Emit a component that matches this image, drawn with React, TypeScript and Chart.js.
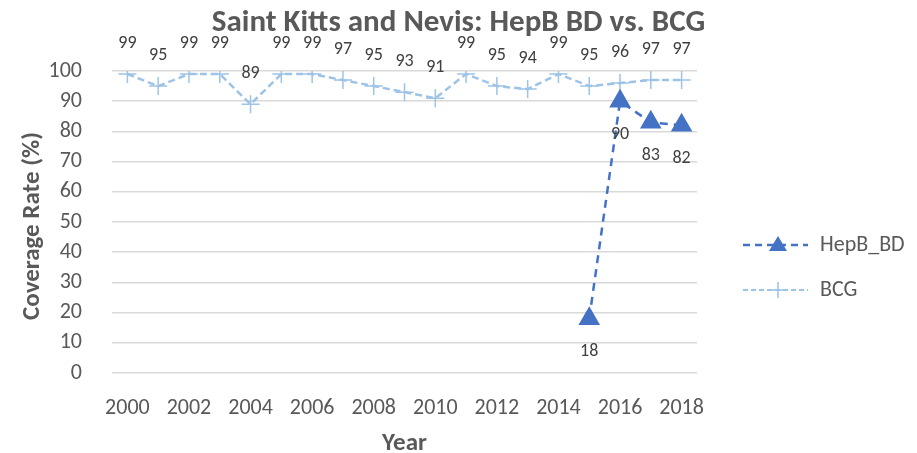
import React, { useEffect, useRef } from "react";
import { Chart, registerables } from "chart.js";

Chart.register(...registerables);

const years = ["2000","2001","2002","2003","2004","2005","2006","2007","2008","2009","2010","2011","2012","2013","2014","2015","2016","2017","2018"];
const hepbBD = [null,null,null,null,null,null,null,null,null,null,null,null,null,null,null,18,90,83,82];
const bcg = [99,95,99,99,89,99,99,97,95,93,91,99,95,94,99,95,96,97,97];
const yTicks = [0,10,20,30,40,50,60,70,80,90,100];

const FONT = "Carlito, Calibri, Lato, 'Noto Sans', sans-serif";
const TEXT = "#595959";
const HEPB_COLOR = "#4472C4";
const BCG_COLOR = "#9DC3E6";

const overlay = {
  id: "overlay",
  afterDatasetsDraw(chart: any) {
    const ctx = chart.ctx;
    ctx.save();
    // data labels
    ctx.font = `18px ${FONT}`;
    ctx.fillStyle = "#404040";
    ctx.textAlign = "center";
    ctx.textBaseline = "middle";
    chart.data.datasets.forEach((ds: any, di: number) => {
      const meta = chart.getDatasetMeta(di);
      meta.data.forEach((pt: any, i: number) => {
        const v = ds.data[i];
        if (v === null || v === undefined) return;
        const dy = di === 0 ? 33 : -31;
        ctx.fillText(String(v), pt.x, pt.y + dy);
      });
    });
    // title
    ctx.font = `bold 31px ${FONT}`;
    ctx.fillStyle = TEXT;
    ctx.textBaseline = "alphabetic";
    ctx.fillText("Saint Kitts and Nevis: HepB BD vs. BCG", chart.width / 2, 31);
    // axis titles
    ctx.font = `bold 25px ${FONT}`;
    const ca = chart.chartArea;
    ctx.fillText("Year", (ca.left + ca.right) / 2, 450);
    ctx.save();
    ctx.translate(39, 226);
    ctx.rotate(-Math.PI / 2);
    ctx.fillText("Coverage Rate (%)", 0, 0);
    ctx.restore();
    // legend
    const items = [
      { label: "HepB_BD", color: HEPB_COLOR, dash: [7, 5], width: 2.5, y: 245, marker: "tri" },
      { label: "BCG", color: BCG_COLOR, dash: [5, 3], width: 2, y: 290, marker: "cross" },
    ];
    items.forEach((it) => {
      ctx.save();
      ctx.strokeStyle = it.color;
      ctx.lineWidth = it.width;
      ctx.setLineDash(it.dash);
      ctx.beginPath();
      ctx.moveTo(743, it.y);
      ctx.lineTo(808, it.y);
      ctx.stroke();
      ctx.setLineDash([]);
      const cx = 778;
      if (it.marker === "tri") {
        ctx.fillStyle = it.color;
        ctx.beginPath();
        ctx.moveTo(cx, it.y - 9);
        ctx.lineTo(cx + 9, it.y + 6);
        ctx.lineTo(cx - 9, it.y + 6);
        ctx.closePath();
        ctx.fill();
      } else {
        ctx.lineWidth = 1.5;
        ctx.beginPath();
        ctx.moveTo(cx - 8, it.y);
        ctx.lineTo(cx + 8, it.y);
        ctx.moveTo(cx, it.y - 8);
        ctx.lineTo(cx, it.y + 8);
        ctx.stroke();
      }
      ctx.restore();
      ctx.font = `22px ${FONT}`;
      ctx.fillStyle = TEXT;
      ctx.textAlign = "left";
      ctx.textBaseline = "middle";
      ctx.fillText(it.label, 820, it.y);
    });
    ctx.restore();
  },
};

export default function App() {
  const ref = useRef<HTMLCanvasElement | null>(null);
  useEffect(() => {
    document.body.style.margin = "0";
    const canvas = ref.current;
    if (!canvas) return;
    const chart = new Chart(canvas, {
      type: "line",
      data: {
        labels: years,
        datasets: [
          {
            label: "HepB_BD",
            data: hepbBD as any,
            borderColor: HEPB_COLOR,
            backgroundColor: HEPB_COLOR,
            borderWidth: 2.5,
            borderDash: [8, 6],
            pointStyle: "triangle",
            pointRadius: 10,
            pointBackgroundColor: HEPB_COLOR,
            pointBorderColor: HEPB_COLOR,
            tension: 0,
          },
          {
            label: "BCG",
            data: bcg,
            borderColor: BCG_COLOR,
            backgroundColor: BCG_COLOR,
            borderWidth: 2.5,
            borderDash: [7, 4],
            pointStyle: "cross",
            pointRadius: 9,
            pointBorderWidth: 1.5,
            pointBorderColor: BCG_COLOR,
            tension: 0,
          },
        ],
      },
      options: {
        animation: false,
        responsive: true,
        maintainAspectRatio: false,
        layout: { padding: { left: 0, top: 71, right: 220, bottom: 0 } },
        plugins: {
          legend: { display: false },
          title: { display: false },
          tooltip: { enabled: false },
        },
        scales: {
          x: {
            type: "category",
            offset: true,
            grid: { display: false, drawTicks: false },
            border: { display: false },
            ticks: {
              autoSkip: false,
              maxRotation: 0,
              padding: 22,
              color: TEXT,
              font: { family: FONT, size: 22 },
              callback: (_v: any, i: number) => (i % 2 === 0 ? years[i] : ""),
            },
            afterFit: (s: any) => { s.height = 80; },
          },
          y: {
            min: 0,
            max: 100,
            afterBuildTicks: (s: any) => { s.ticks = yTicks.map((v) => ({ value: v })); },
            grid: { color: "#D9D9D9", lineWidth: 1.5, drawTicks: false },
            border: { display: false },
            ticks: {
              padding: 30,
              color: TEXT,
              font: { family: FONT, size: 22 },
            },
            afterFit: (s: any) => { s.width = 112; },
          },
        },
      },
      plugins: [overlay],
    });
    return () => chart.destroy();
  }, []);
  return (
    <div style={{ width: "917px", height: "453px", position: "relative", background: "#fff" }}>
      <canvas ref={ref} />
    </div>
  );
}
